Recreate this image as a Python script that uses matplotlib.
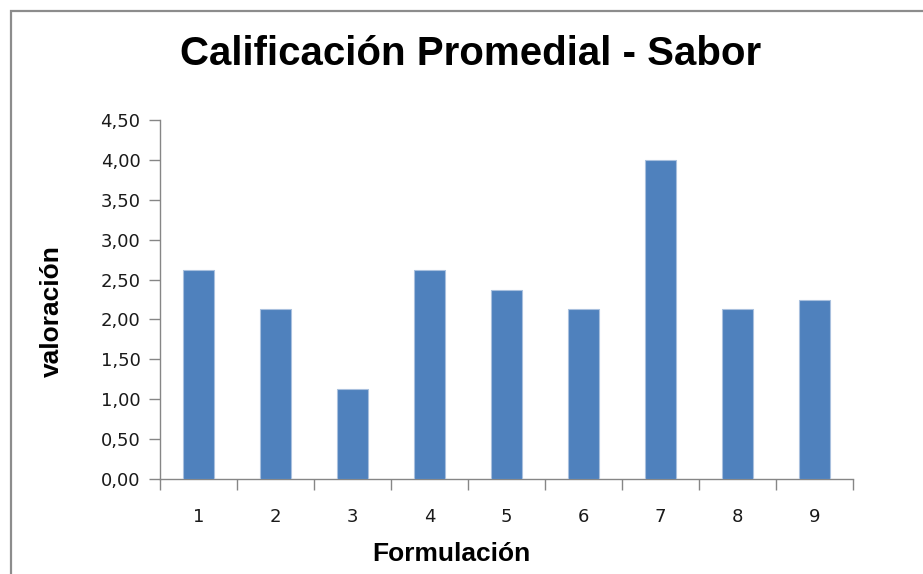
import numpy as np
import matplotlib
matplotlib.use('Agg')
import matplotlib.pyplot as plt
from matplotlib.patches import Rectangle
from matplotlib.ticker import FixedLocator, FuncFormatter

# Data
formulaciones = ['1', '2', '3', '4', '5', '6', '7', '8', '9']
valoracion = [2.625, 2.125, 1.125, 2.625, 2.375, 2.125, 4.0, 2.125, 2.25]
y_ticks = [0, 0.5, 1.0, 1.5, 2.0, 2.5, 3.0, 3.5, 4.0, 4.5]

plt.rcParams['font.family'] = ['Liberation Sans', 'DejaVu Sans']

fig = plt.figure(figsize=(9.23, 5.74), dpi=100)
ax = fig.add_axes([160 / 923, 1 - 479 / 574, 693 / 923, 359 / 574])

x = np.arange(len(formulaciones))
ax.bar(x, valoracion, width=0.4, color='#4f81bd', edgecolor='#a9c0de',
       linewidth=0.8, zorder=3)

ax.set_xlim(-0.5, len(formulaciones) - 0.5)
ax.set_ylim(0, 4.5)

tick_font = {'family': 'DejaVu Sans', 'size': 13}

# y axis
ax.set_yticks(y_ticks)
ax.yaxis.set_major_formatter(FuncFormatter(lambda v, p: f'{v:.2f}'.replace('.', ',')))
ax.tick_params(axis='y', length=8, width=1, color='#868686', pad=6,
               labelcolor='#1a1a1a')

# x axis: ticks between categories, labels at centers
ax.xaxis.set_major_locator(FixedLocator(np.arange(-0.5, len(formulaciones), 1.0)))
ax.xaxis.set_major_formatter(FuncFormatter(lambda v, p: ''))
ax.xaxis.set_minor_locator(FixedLocator(x))
ax.xaxis.set_minor_formatter(FuncFormatter(lambda v, p: formulaciones[int(round(v))]))
ax.tick_params(axis='x', which='major', length=8, width=1, color='#868686')
ax.tick_params(axis='x', which='minor', length=0, pad=21, labelcolor='#1a1a1a')

for lbl in ax.get_yticklabels() + ax.get_xticklabels(minor=True):
    lbl.set_fontfamily(tick_font['family'])
    lbl.set_fontsize(tick_font['size'])

for side in ['top', 'right']:
    ax.spines[side].set_visible(False)
for side in ['left', 'bottom']:
    ax.spines[side].set_color('#868686')
    ax.spines[side].set_linewidth(1)

ax.set_xlabel('Formulación', fontsize=19, fontweight='bold')
ax.xaxis.set_label_coords((451 - 160) / 693, (479 - 542) / 359)
ax.set_ylabel('valoración', fontsize=19, fontweight='bold')
ax.yaxis.set_label_coords((64 - 160) / 693, (479 - 311) / 359)

fig.text(471 / 923, 1 - 54 / 574, 'Calificación Promedial - Sabor',
         ha='center', va='center', fontsize=29, fontweight='bold')

# chart frame (only the left and top edges are visible)
fig.patches.append(Rectangle((11 / 923, -0.1), 1.2, 1.1 - 11 / 574,
                             transform=fig.transFigure, fill=False,
                             edgecolor='#8c8c8c', linewidth=1.6))

plt.savefig('out.png', dpi=100)
plt.close()
